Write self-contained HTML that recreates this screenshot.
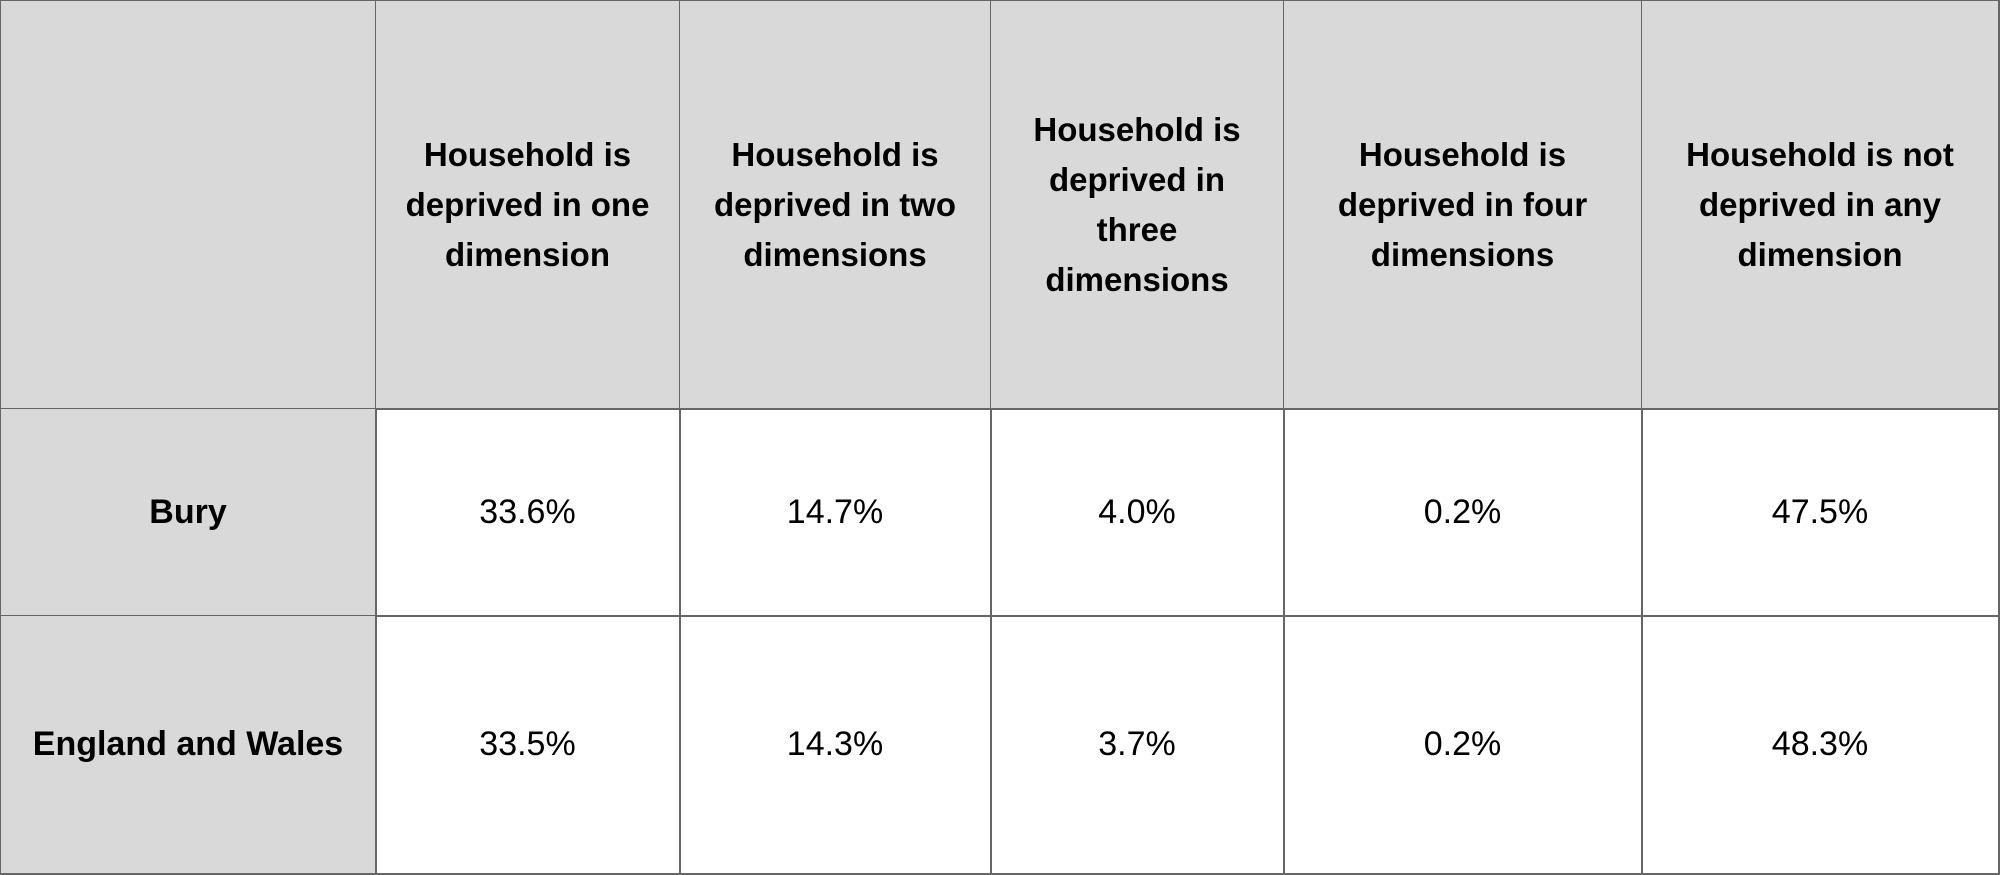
<!DOCTYPE html>
<html><head><style>
body{margin:0;width:2000px;height:875px;background:#fff;overflow:hidden;font-family:"Liberation Sans",sans-serif;}
.c{position:absolute;display:flex;align-items:center;justify-content:center;text-align:center;box-sizing:border-box;border-right:2px solid #666;border-bottom:2px solid #666;color:#000;}
.h{background:#d9d9d9;font-weight:bold;font-size:33px;line-height:50px;}
.d{font-size:34px;}
.r{background:#d9d9d9;font-weight:bold;font-size:34px;}
</style></head><body>
<div class="c h" style="left:0;top:0;width:377px;height:410px;border-left:1px solid #666;border-top:1px solid #666"></div>
<div class="c h" style="left:376px;top:0;width:305px;height:410px;border-top:1px solid #666">Household is<br>deprived in one<br>dimension</div>
<div class="c h" style="left:680px;top:0;width:312px;height:410px;border-top:1px solid #666">Household is<br>deprived in two<br>dimensions</div>
<div class="c h" style="left:991px;top:0;width:294px;height:410px;border-top:1px solid #666">Household is<br>deprived in<br>three<br>dimensions</div>
<div class="c h" style="left:1284px;top:0;width:359px;height:410px;border-top:1px solid #666">Household is<br>deprived in four<br>dimensions</div>
<div class="c h" style="left:1642px;top:0;width:358px;height:410px;border-top:1px solid #666">Household is not<br>deprived in any<br>dimension</div>

<div class="c r" style="left:0;top:409px;width:377px;height:208px;border-left:1px solid #666">Bury</div>
<div class="c d" style="left:376px;top:409px;width:305px;height:208px">33.6%</div>
<div class="c d" style="left:680px;top:409px;width:312px;height:208px">14.7%</div>
<div class="c d" style="left:991px;top:409px;width:294px;height:208px">4.0%</div>
<div class="c d" style="left:1284px;top:409px;width:359px;height:208px">0.2%</div>
<div class="c d" style="left:1642px;top:409px;width:358px;height:208px">47.5%</div>

<div class="c r" style="left:0;top:616px;width:377px;height:259px;border-left:1px solid #666">England and Wales</div>
<div class="c d" style="left:376px;top:616px;width:305px;height:259px">33.5%</div>
<div class="c d" style="left:680px;top:616px;width:312px;height:259px">14.3%</div>
<div class="c d" style="left:991px;top:616px;width:294px;height:259px">3.7%</div>
<div class="c d" style="left:1284px;top:616px;width:359px;height:259px">0.2%</div>
<div class="c d" style="left:1642px;top:616px;width:358px;height:259px">48.3%</div>
</body></html>
